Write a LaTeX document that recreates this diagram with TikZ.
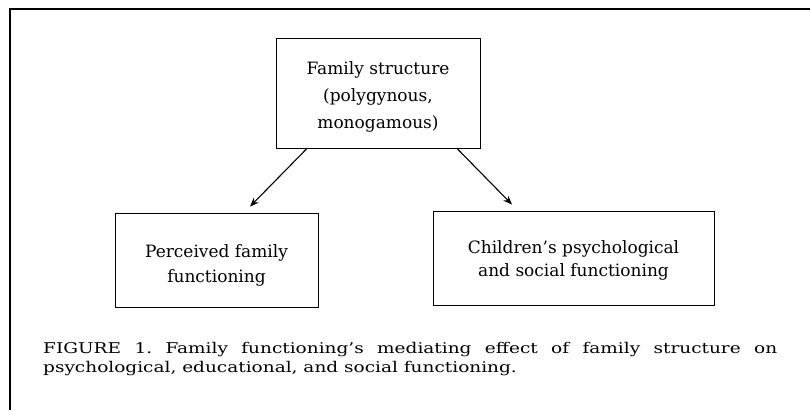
\documentclass[tikz,border=0pt]{standalone}
\usepackage{fontspec}
\setmainfont{DejaVu Serif}
\newfontfamily\capfont{DejaVu Serif}[FakeStretch=1.25, Ligatures=TeX]
\usepackage{tikz}
\usetikzlibrary{shapes.geometric, arrows, arrows.meta}
\tikzstyle{link} = [line width=1.1pt,-{Stealth[length=9pt,width=7pt]}]
\tikzstyle{block} = [draw, line width=0.9pt, inner sep=0pt]
\tikzstyle{words} = [align=center, inner sep=0pt]

\begin{document}
\begin{tikzpicture}[x=1pt,y=1pt]
	\useasboundingbox (0,0) rectangle (810,410);
	\begin{scope}[font=\fontsize{17}{27}\selectfont]
		
		% Page edges:
		% Only the top and left rules of the scanned page show
		\draw [line width=1.2pt] (810,401) -- (10,401) -- (10,0);
		
		% Boxes:
		% Placed by their centres, sizes
		\node [block, minimum width=204pt, minimum height=110pt] (structure) at (378,317) {};
		\node [block, minimum width=203pt, minimum height=94pt] (perceived) at (216.5,150) {};
		\node [block, minimum width=281pt, minimum height=94pt] (children) at (573.5,152) {};
		
		% Texts sit a little low in the boxes
		\node [words] (structuretext) at ([yshift=-4pt]structure.center)
			{Family structure\\(polygynous,\\monogamous)};
		\node [words, font=\fontsize{17}{25}\selectfont] (perceivedtext) at ([yshift=-5pt]perceived.center)
			{Perceived family\\functioning};
		\node [words, font=\fontsize{17}{23}\selectfont] (childrentext) at ([yshift=-2pt]children.center)
			{Children's psychological\\and social functioning};
		
		% Arrows:
		% They stop a little above the lower boxes
		\draw [link] ([xshift=-71pt]structure.south) -- ([xshift=33.5pt,yshift=6pt]perceived.north);
		\draw [link] ([xshift=79pt]structure.south) -- ([xshift=-61.5pt,yshift=6pt]children.north);
		
		% Caption:
		\node [anchor=west, text width=734pt, align=justify, inner sep=0pt,
			font=\capfont\fontsize{14.8}{18.5}\selectfont\frenchspacing] (caption) at (43,51)
			{FIGURE 1. Family functioning's mediating effect of family structure on\linebreak psychological, educational, and social functioning.};
		
	\end{scope}
\end{tikzpicture}
\end{document}
